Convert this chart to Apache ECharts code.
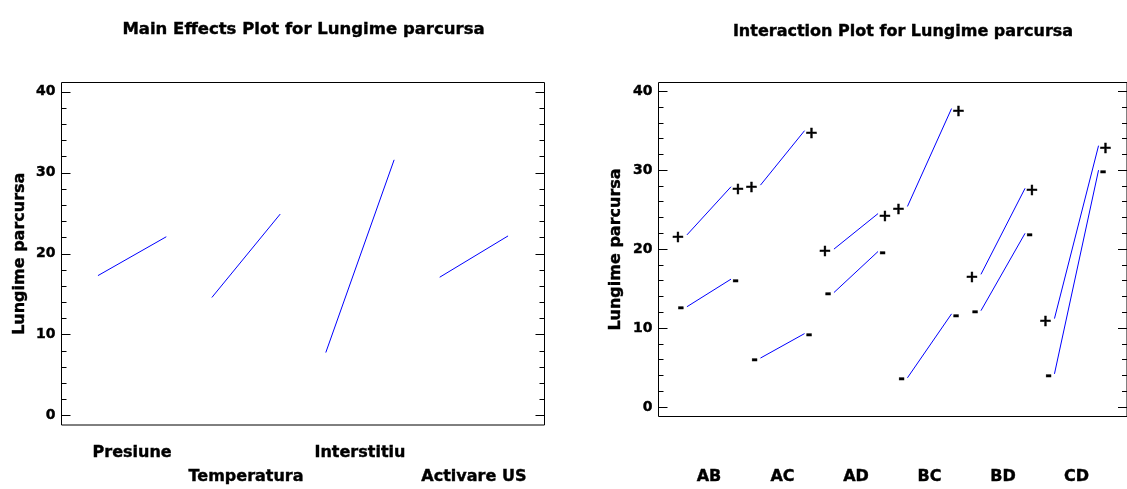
<!DOCTYPE html>
<html>
<head>
<meta charset="utf-8">
<script src="https://cdn.jsdelivr.net/npm/echarts@6/dist/echarts.min.js"></script>
<style>
  html, body { margin: 0; padding: 0; background: #ffffff; }
  #chart { width: 1127px; height: 489px; }
</style>
</head>
<body>
<div id="chart"></div>
<script>
// Main effects: mean response at the low and high level of each factor
const factors = ['Presiune', 'Temperatura', 'Interstitiu', 'Activare US'];
const mainLow = [17.3, 14.6, 7.8, 17.1];
const mainHigh = [22.1, 24.9, 31.6, 22.2];

// Two-factor interactions: first factor low -> high, second factor held at '-' or '+'
const interactions = ['AB', 'AC', 'AD', 'BC', 'BD', 'CD'];
const minusLow = [12.7, 6.2, 14.5, 3.7, 12.2, 4.2];
const minusHigh = [16.2, 9.3, 19.7, 11.8, 22.0, 30.0];
const plusLow = [21.8, 28.1, 20.0, 25.4, 16.8, 11.2];
const plusHigh = [27.9, 35.0, 24.5, 37.8, 27.7, 33.1];

// Y axis ticks
const yMajor = [0, 10, 20, 30, 40];
const yMinor = [2, 4, 6, 8, 12, 14, 16, 18, 22, 24, 26, 28, 32, 34, 36, 38];

const FONT = 'DejaVu Sans';
const yTitle = 'Lungime parcursa';
const HALF = 0.3; // half width of each low/high segment, in category units

// heavy bold text
const heavy = { textBorderColor: '#000', textBorderWidth: 0.4 };

function yAxesFor(gridIndex, min, max, gap) {
  const base = {
    type: 'value', gridIndex: gridIndex, min: min, max: max,
    splitLine: { show: false }, axisLine: { show: false }
  };
  const tick = (len, vals) => ({
    show: true, inside: true, length: len, customValues: vals,
    lineStyle: { color: '#000', width: 1 }
  });
  return [
    Object.assign({}, base, {
      position: 'left',
      axisTick: tick(9, yMajor),
      axisLabel: Object.assign({
        show: true, customValues: yMajor, margin: 6, color: '#000',
        fontFamily: FONT, fontWeight: 'bold', fontSize: 14
      }, heavy),
      name: yTitle, nameLocation: 'middle', nameGap: gap,
      nameTextStyle: Object.assign({ color: '#000', fontFamily: FONT, fontWeight: 'bold', fontSize: 16 }, heavy)
    }),
    Object.assign({}, base, { position: 'left', axisTick: tick(5, yMinor), axisLabel: { show: false } }),
    Object.assign({}, base, { position: 'right', axisTick: tick(9, yMajor), axisLabel: { show: false } }),
    Object.assign({}, base, { position: 'right', axisTick: tick(5, yMinor), axisLabel: { show: false } })
  ];
}

const labelFont = Object.assign({ color: '#000', fontFamily: FONT, fontWeight: 'bold', fontSize: 16 }, heavy);

// Main effects segments
const mainSeries = factors.map((f, i) => ({
  name: f, type: 'line', xAxisIndex: 0, yAxisIndex: 0,
  silent: true, symbol: 'none', emphasis: { disabled: true },
  lineStyle: { color: '#0000ff', width: 1 },
  data: [[i + 1 - HALF, mainLow[i]], [i + 1 + HALF, mainHigh[i]]]
}));

// Interaction segments with '+' / '-' level markers at both ends
function interactionSeries(i, sign, lo, hi) {
  const dy = sign === '+' ? 3 : 1.5;
  const dl = sign === '+' ? 8.5 : 5.5;
  const dr = sign === '+' ? 6.5 : 4;
  return {
    name: interactions[i] + ' ' + sign, type: 'line', xAxisIndex: 1, yAxisIndex: 4,
    silent: true, emphasis: { disabled: true },
    symbol: 'circle', symbolSize: 1, itemStyle: { color: 'rgba(0,0,0,0)' },
    lineStyle: { color: '#0000ff', width: 1 },
    label: Object.assign({ show: true, formatter: sign, align: 'center', verticalAlign: 'middle' }, labelFont),
    data: [
      { value: [i + 1 - HALF, lo], label: { position: 'left', distance: dl, offset: [0, dy] } },
      { value: [i + 1 + HALF, hi], label: { position: 'right', distance: dr, offset: [0, dy] } }
    ]
  };
}

const interSeries = [];
interactions.forEach((name, i) => {
  interSeries.push(interactionSeries(i, '+', plusLow[i], plusHigh[i]));
  interSeries.push(interactionSeries(i, '-', minusLow[i], minusHigh[i]));
});

const chart = echarts.init(document.getElementById('chart'), null, { renderer: 'canvas' });

const titleStyle = (size) => ({
  fill: '#000', stroke: '#000', lineWidth: 0.4,
  font: 'bold ' + size + 'px "DejaVu Sans"', align: 'center', verticalAlign: 'middle'
});

chart.setOption({
  animation: false,
  backgroundColor: '#ffffff',
  graphic: [
    {
      type: 'text', x: 303.5, y: 29.5, silent: true,
      style: Object.assign({ text: 'Main Effects Plot for Lungime parcursa' }, titleStyle(16.5))
    },
    {
      type: 'text', x: 903, y: 32, silent: true,
      style: Object.assign({ text: 'Interaction Plot for Lungime parcursa' }, titleStyle(16))
    }
  ],
  grid: [
    { left: 61.5, top: 82.5, width: 483, height: 347, show: true,
      borderColor: '#000', borderWidth: 1, backgroundColor: 'transparent' },
    { left: 658.5, top: 82.5, width: 474, height: 337, show: true,
      borderColor: '#000', borderWidth: 1, backgroundColor: 'transparent' }
  ],
  xAxis: [
    {
      type: 'value', gridIndex: 0, min: 0.38, max: 4.62,
      splitLine: { show: false }, axisLine: { show: false }, axisTick: { show: false },
      axisLabel: Object.assign({
        show: true, customValues: [1, 2, 3, 4], margin: 16, lineHeight: 24,
        formatter: (v) => {
          const k = Math.round(v);
          return (k % 2 === 0 ? '\n' : '') + factors[k - 1];
        }
      }, labelFont)
    },
    {
      type: 'value', gridIndex: 1, min: 0.313, max: 6.687,
      splitLine: { show: false }, axisLine: { show: false }, axisTick: { show: false },
      axisLabel: Object.assign({
        show: true, customValues: [1, 2, 3, 4, 5, 6], margin: 48.5, lineHeight: 24,
        formatter: (v) => interactions[Math.round(v) - 1]
      }, labelFont)
    }
  ],
  yAxis: yAxesFor(0, -1.15, 41.15, 34).concat(yAxesFor(1, -1.2, 41.1, 35)),
  series: mainSeries.concat(interSeries)
});
</script>
</body>
</html>
